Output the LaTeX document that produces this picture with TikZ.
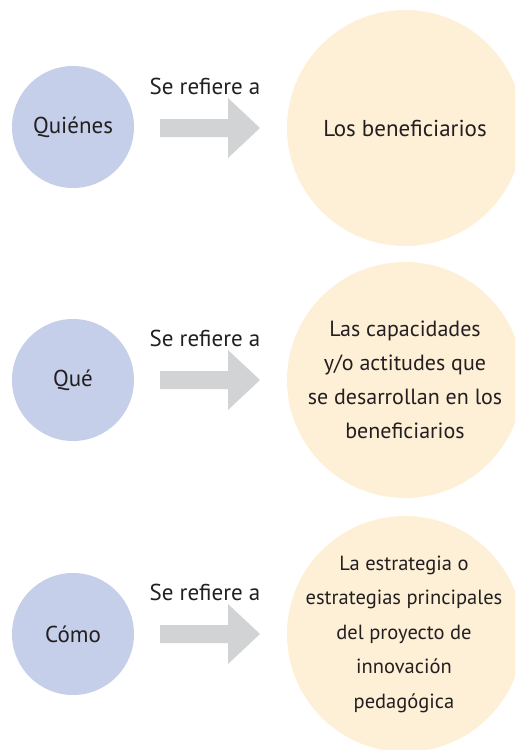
\documentclass[tikz,border=0pt]{standalone}
\usepackage{fontspec}
\setmainfont{PT Sans}
\definecolor{bluec}{HTML}{C6CFEA}
\definecolor{orangec}{HTML}{FEF0D7}
\definecolor{arrowc}{HTML}{D1D3D4}
\definecolor{txt}{HTML}{231F20}
\begin{document}
\begin{tikzpicture}[x=1pt,y=-1pt,
  bluecirc/.style={circle,fill=bluec,minimum size=122pt,inner sep=0pt,text=txt,font=\fontsize{23}{27}\selectfont},
  orangecirc/.style={circle,fill=orangec,minimum size=236pt,inner sep=0pt},
  otext/.style={text=txt,align=center,inner sep=0pt},
  lbl/.style={text=txt,font=\fontsize{23}{27}\selectfont,inner sep=0pt}]
\useasboundingbox (0,0) rectangle (515,750);
\begin{scope}
\clip (0,0) rectangle (515,750);
\foreach \y/\n in {128/1,380/2,634/3}{
  \coordinate (a\n) at (160,\y);
  \fill[arrowc] (a\n) ++(0,-9) -- ++(68,0) -- ++(0,-21) -- ++(32,30) -- ++(-32,30) -- ++(0,-21) -- ++(-68,0) -- cycle;
  \node[lbl] (s\n) at (205,\y-42) {Se refiere a};
}
\node[bluecirc] (q1) at (73,127) {Quiénes};
\node[bluecirc] (q2) at (73,380) {Qué};
\node[bluecirc] (q3) at (73,634) {Cómo};
\node[orangecirc] (o1) at (405,128) {};
\node[orangecirc] (o2) at (405,380) {};
\node[orangecirc] (o3) at (405,634) {};
\node[otext,font=\fontsize{23}{34}\selectfont] (t1) at (o1) {Los beneficiarios};
\node[otext,font=\fontsize{22}{34}\selectfont] (t2) at (o2) {Las capacidades\\y/o actitudes que\\se desarrollan en los\\beneficiarios};
\node[otext,font=\fontsize{20.5}{34.5}\selectfont] (t3) at ([xshift=-1pt]o3.center) {La estrategia o\\estrategias principales\\del proyecto de\\innovación\\pedagógica};
\end{scope}
\end{tikzpicture}
\end{document}
